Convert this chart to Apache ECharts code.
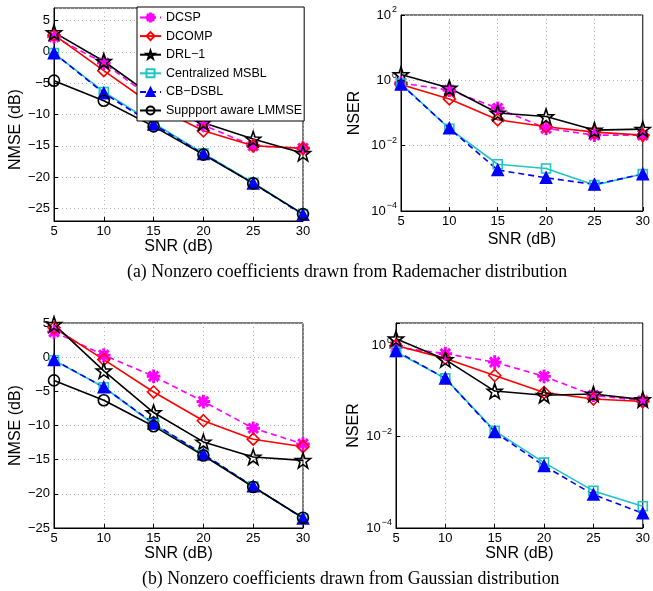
<!DOCTYPE html>
<html>
<head>
<meta charset="UTF-8">
<title>NMSE / NSER</title>
<script src="https://cdn.jsdelivr.net/npm/echarts@6/dist/echarts.min.js"></script>
<style>
    html, body {margin:0; padding:0; background:#fff;}
    #main {width:653px; height:591px;}
</style>
</head>
<body>
<div id="main"></div>
<script>
    // x axis, shared by all four panels
    var snr = [5, 10, 15, 20, 25, 30];
    var names = ['DCSP', 'DCOMP', 'DRL\u22121', 'Centralized MSBL', 'CB\u2212DSBL', 'Suppport aware LMMSE'];

    // (a) Rademacher - NMSE (dB)
    var aNmseDcsp   = [2.4, -1.8, -7.6, -11.7, -15.0, -15.4];
    var aNmseDcomp  = [2.7, -3.0, -8.6, -12.6, -15.0, -15.4];
    var aNmseDrl    = [3.1, -1.5, -7.2, -11.3, -13.9, -16.2];
    var aNmseMsbl   = [-0.2, -6.4, -11.4, -16.2, -20.9, -25.9];
    var aNmseCb     = [-0.2, -6.6, -11.6, -16.3, -21.0, -26.0];
    var aNmseLmmse  = [-4.6, -7.8, -11.9, -16.4, -21.0, -25.9];

    // (a) Rademacher - NSER
    var aNserDcsp   = [0.83, 0.5, 0.14, 0.034, 0.021, 0.021];
    var aNserDcomp  = [0.74, 0.27, 0.062, 0.038, 0.026, 0.021];
    var aNserDrl    = [1.5, 0.58, 0.1, 0.078, 0.03, 0.032];
    var aNserMsbl   = [0.8, 0.033, 0.0027, 0.002, 0.00062, 0.00135];
    var aNserCb     = [0.75, 0.034, 0.0018, 0.00104, 0.00065, 0.00135];

    // (b) Gaussian - NMSE (dB)
    var bNmseDcsp   = [3.7, 0.3, -2.8, -6.5, -10.4, -12.7];
    var bNmseDcomp  = [4.3, -0.35, -5.1, -9.3, -12.0, -13.1];
    var bNmseDrl    = [4.8, -2.0, -8.1, -12.4, -14.6, -15.1];
    var bNmseMsbl   = [-0.45, -4.4, -9.8, -14.3, -18.9, -23.6];
    var bNmseCb     = [-0.4, -4.4, -9.7, -14.2, -18.9, -23.6];
    var bNmseLmmse  = [-3.4, -6.3, -10.1, -14.4, -19.0, -23.5];

    // (b) Gaussian - NSER
    var bNserDcsp   = [0.91, 0.66, 0.43, 0.21, 0.081, 0.061];
    var bNserDcomp  = [1.0, 0.52, 0.22, 0.093, 0.067, 0.059];
    var bNserDrl    = [1.4, 0.49, 0.10, 0.081, 0.086, 0.065];
    var bNserMsbl   = [0.72, 0.19, 0.0134, 0.0027, 0.00065, 0.0003];
    var bNserCb     = [0.76, 0.19, 0.0127, 0.0023, 0.00054, 0.00021];

    var panels = [
        [aNmseDcsp, aNmseDcomp, aNmseDrl, aNmseMsbl, aNmseCb, aNmseLmmse],
        [aNserDcsp, aNserDcomp, aNserDrl, aNserMsbl, aNserCb],
        [bNmseDcsp, bNmseDcomp, bNmseDrl, bNmseMsbl, bNmseCb, bNmseLmmse],
        [bNserDcsp, bNserDcomp, bNserDrl, bNserMsbl, bNserCb]
    ];

    // marker shapes
    function asteriskPath() {
        var p = '', w = 1.1, r = 10;
        for (var k = 0; k < 4; k++) {
            var a = k * Math.PI / 4, c = Math.cos(a), s = Math.sin(a);
            var pts = [[-r, -w], [r, -w], [r, w], [-r, w]].map(function (q) {
                return (q[0] * c - q[1] * s).toFixed(2) + ',' + (q[0] * s + q[1] * c).toFixed(2);
            });
            p += 'M' + pts.join('L') + 'Z';
        }
        return 'path://' + p;
    }
    function starPath() {
        var pts = [];
        for (var k = 0; k < 10; k++) {
            var r = k % 2 ? 4 : 10, a = -Math.PI / 2 + k * Math.PI / 5;
            pts.push((r * Math.cos(a)).toFixed(2) + ',' + (r * Math.sin(a)).toFixed(2));
        }
        return 'path://M' + pts.join('L') + 'Z';
    }

    var styles = [
        {color: '#ff00ff', dash: [6, 4], symbol: asteriskPath(), size: 12, fill: '#ff00ff'},
        {color: '#ff0000', dash: 'solid', symbol: 'diamond', size: 12, fill: 'rgba(0,0,0,0)'},
        {color: '#000000', dash: 'solid', symbol: starPath(), size: 15, fill: 'rgba(0,0,0,0)'},
        {color: '#1fc4c4', dash: 'solid', symbol: 'rect', size: 9, fill: 'rgba(0,0,0,0)'},
        {color: '#0000ff', dash: [6, 4], symbol: 'triangle', size: 11, fill: '#0000ff'},
        {color: '#000000', dash: 'solid', symbol: 'circle', size: 11, fill: 'rgba(0,0,0,0)'}
    ];

    var font = 'Liberation Sans';
    var grids = [
        {left: 54, top: 8, width: 249, height: 213},
        {left: 401, top: 15, width: 243, height: 196},
        {left: 54, top: 323, width: 249, height: 205},
        {left: 396, top: 323, width: 248, height: 205}
    ];
    grids.forEach(function (g) {
        g.show = true; g.borderColor = '#000'; g.borderWidth = 1; g.backgroundColor = 'transparent';
    });

    var gridLine = {show: true, lineStyle: {color: '#b4b4b4', type: [1, 3], width: 1}};
    var tick = {show: true, inside: true, length: 4, lineStyle: {color: '#000'}};
    var axLine = {show: true, onZero: false, lineStyle: {color: '#000'}};
    var minus = function (v) { return String(v).replace('-', '\u2212'); };

    var xNameGap = [12, 21, 17, 17];
    var xAxes = grids.map(function (g, i) {
        return {
            type: 'value', gridIndex: i, min: 5, max: 30, interval: 5,
            name: 'SNR (dB)', nameLocation: 'middle', nameGap: xNameGap[i],
            nameTextStyle: {fontFamily: font, fontSize: 16, color: '#000'},
            axisLine: axLine, axisTick: tick, splitLine: gridLine,
            axisLabel: {fontFamily: font, fontSize: 13, color: '#000', margin: 4}
        };
    });

    function logLabel(v) {
        var l = Math.log10(v), e = Math.round(l);
        if (Math.abs(l - e) > 1e-6 || e % 2 !== 0) return '';
        return '{b|10}{e|' + (e < 0 ? '\u2212' : '') + Math.abs(e) + '}';
    }
    var logRich = {
        b: {fontFamily: font, fontSize: 13, color: '#000', padding: [5, 0, 5, 0]},
        e: {fontFamily: font, fontSize: 9, color: '#000', verticalAlign: 'top', padding: [2, 0, 0, 1]}
    };

    function nmseAxis(i, min, max, edgeLabels, extra) {
        var ax = {
            type: 'value', gridIndex: i, min: min, max: max,
            name: 'NMSE (dB)', nameLocation: 'middle', nameGap: 29,
            nameTextStyle: {fontFamily: font, fontSize: 16, color: '#000'},
            axisLine: axLine, axisTick: tick, splitLine: gridLine,
            axisLabel: {fontFamily: font, fontSize: 13, color: '#000', margin: 4, formatter: minus,
                showMinLabel: edgeLabels, showMaxLabel: edgeLabels}
        };
        for (var k in extra) ax[k] = extra[k];
        return ax;
    }
    function nserAxis(i, max, gap) {
        return {
            type: 'log', logBase: 10, gridIndex: i, min: 1e-4, max: max, interval: 2,
            name: 'NSER', nameLocation: 'middle', nameGap: gap,
            nameTextStyle: {fontFamily: font, fontSize: 16, color: '#000'},
            axisLine: axLine, axisTick: tick, splitLine: gridLine, minorTick: {show: false},
            axisLabel: {margin: 4, formatter: logLabel, rich: logRich}
        };
    }

    var yAxes = [
        nmseAxis(0, -27, 7, false, {splitNumber: 7, nameTextStyle: {fontFamily: font, fontSize: 16, color: '#000', padding: [0, 30, 0, 0]}}),
        nserAxis(1, 100, 38),
        nmseAxis(2, -25, 5, true, {interval: 5}),
        nserAxis(3, 3.1, 34)
    ];

    var series = [];
    panels.forEach(function (list, p) {
        list.forEach(function (vals, k) {
            var st = styles[k];
            series.push({
                name: names[k], type: 'line', xAxisIndex: p, yAxisIndex: p,
                data: snr.map(function (x, j) { return [x, vals[j]]; }),
                symbol: st.symbol, symbolSize: st.size, showAllSymbol: true,
                lineStyle: {color: st.color, width: 1.6, type: st.dash},
                itemStyle: {color: st.fill, borderColor: st.color, borderWidth: 1.6},
                emphasis: {disabled: true}
            });
        });
    });

    var capStyle = {fontFamily: 'Liberation Serif', fontSize: 17.8, fontWeight: 'normal', color: '#000'};
    var option = {
        animation: false,
        backgroundColor: '#fff',
        title: [
            {text: '(a) Nonzero coefficients drawn from Rademacher distribution', left: 127, top: 263, padding: 0, textStyle: capStyle},
            {text: '(b) Nonzero coefficients drawn from Gaussian distribution', left: 142, top: 570, padding: 0, textStyle: capStyle}
        ],
        legend: {
            data: names, orient: 'vertical', left: 137, top: 7,
            padding: [4, 2, 4, 2], itemWidth: 21, itemHeight: 10, itemGap: 5.6,
            backgroundColor: '#fff', borderColor: '#000', borderWidth: 1,
            textStyle: {fontFamily: font, fontSize: 12.5, color: '#000'}
        },
        grid: grids,
        xAxis: xAxes,
        yAxis: yAxes,
        series: series
    };

    var chart = echarts.init(document.getElementById('main'));
    chart.setOption(option);
</script>
</body>
</html>
